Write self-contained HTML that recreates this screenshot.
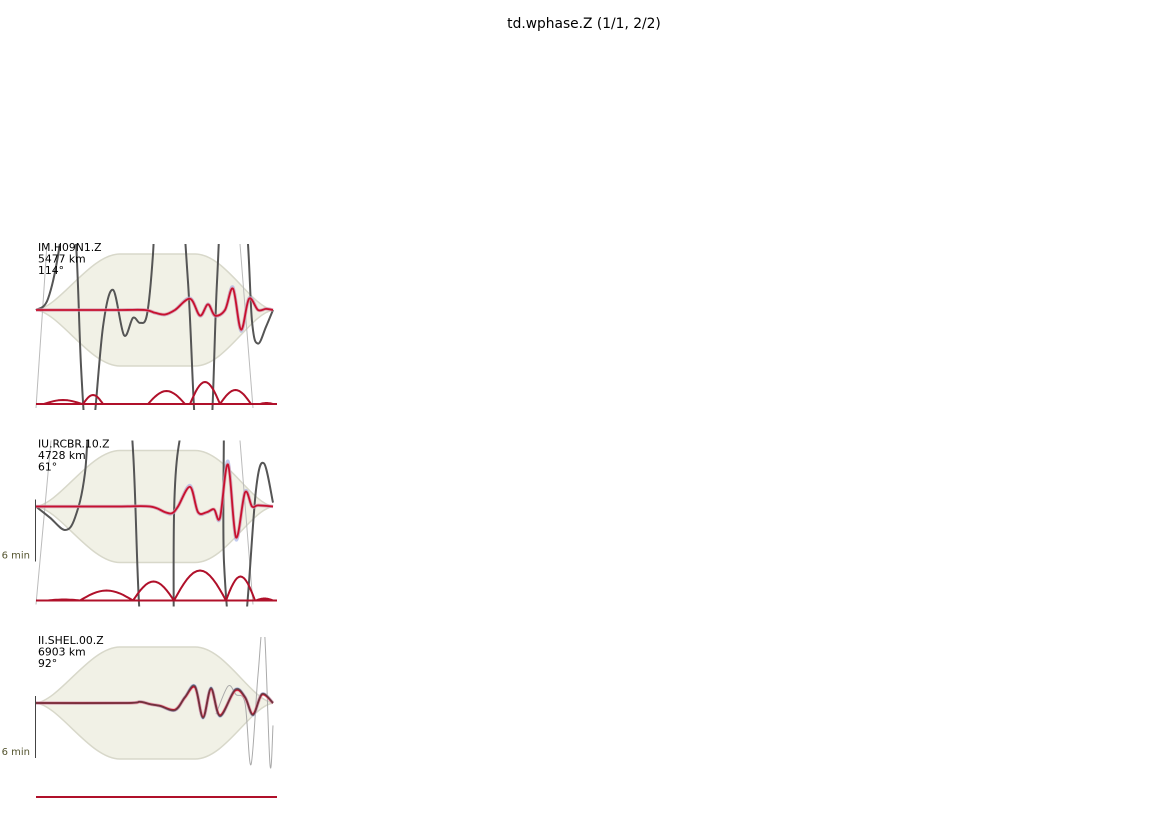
<!DOCTYPE html>
<html><head><meta charset="utf-8"><style>
body{margin:0;background:#fff;font-family:"DejaVu Sans","Liberation Sans",sans-serif}
svg{display:block}
</style></head><body>
<svg id="chart" width="1169" height="826" viewBox="0 0 1169 826">
<text x="584" y="28" text-anchor="middle" font-size="13.8" fill="#000" font-family="DejaVu Sans, sans-serif">td.wphase.Z (1/1, 2/2)</text>
<g id="panels"></g>
</svg>
<script>
// time samples (seconds) and normalized amplitudes per station
const stations = ["IM.H09N1.Z","IU.RCBR.10.Z","II.SHEL.00.Z"];
const distances = ["5477 km","4728 km","6903 km"];
const azimuths = ["114°","61°","92°"];
const synT1 = [0,400,545,595,645,695,770,820,860,895,945,985,1025,1065,1110,1150,1185];
const synV1 = [0,0,0,-0.05,-0.08,0,0.2,-0.1,0.1,-0.1,0,0.38,-0.35,0.2,0,0.02,0];
const obsT1 = [0,60,120,160,200,225,255,285,335,385,440,485,520,555,585,615,700,760,805,870,905,950,1045,1080,1110,1150,1185];
const obsV1 = [0,0.2,1.2,2.6,1.2,-1,-2.5,-2.2,-0.3,0.36,-0.45,-0.14,-0.23,-0.08,1,3,3,0.5,-2.5,-2.5,0.5,3,1.8,-0.2,-0.6,-0.3,0];
// spectrum bumps: start time, end time, height (px units)
const specS1 = [40,235,560,770,920,1120];
const specE1 = [230,335,745,920,1075,1185];
const specH1 = [4,9,13,22,14,1];
const synT2 = [0,400,570,645,680,710,770,810,855,890,920,960,1000,1045,1080,1110,1185];
const synV2 = [0,0,0,-0.1,-0.12,0,0.35,-0.1,-0.1,-0.05,-0.2,0.75,-0.55,0.25,0,0.02,0];
const obsT2 = [0,70,145,195,245,290,430,485,520,580,680,710,920,940,1000,1050,1100,1140,1185];
const obsV2 = [0,-0.2,-0.42,-0.2,0.6,2.5,3,1,-2,-3,-3,1,3,-1,-3,-2,0.3,0.77,0.07];
const specS2 = [60,220,485,690,950,1100];
const specE2 = [220,485,690,950,1095,1185];
const specH2 = [1,10,19,30,24,2];
const synT3 = [0,450,520,570,620,695,745,795,835,875,920,995,1045,1085,1130,1185];
const synV3 = [0,0,0.02,-0.02,-0.05,-0.12,0.1,0.28,-0.25,0.25,-0.22,0.22,0.1,-0.2,0.15,0];
const ghostT3 = [900,960,1000,1045,1075,1110,1140,1170,1185];
const ghostV3 = [-0.2,0.3,0.15,0,-1.1,0.5,1.4,-1.1,-0.4];
const tMax = 1185;

const NS='http://www.w3.org/2000/svg';
const root=document.getElementById('panels');
const X0=36, X1=273;
const xs=t=>X0+t/tMax*(X1-X0);
function mk(tag,attrs,parent){const e=document.createElementNS(NS,tag);for(const k in attrs)e.setAttribute(k,attrs[k]);(parent||root).appendChild(e);return e;}
function smooth(pts){
  let d='M'+pts[0][0].toFixed(1)+','+pts[0][1].toFixed(1);
  for(let i=0;i<pts.length-1;i++){
    const p0=pts[Math.max(0,i-1)],p1=pts[i],p2=pts[i+1],p3=pts[Math.min(pts.length-1,i+2)];
    const c1=[p1[0]+(p2[0]-p0[0])/6,p1[1]+(p2[1]-p0[1])/6];
    const c2=[p2[0]-(p3[0]-p1[0])/6,p2[1]-(p3[1]-p1[1])/6];
    d+=' C'+c1[0].toFixed(1)+','+c1[1].toFixed(1)+' '+c2[0].toFixed(1)+','+c2[1].toFixed(1)+' '+p2[0].toFixed(1)+','+p2[1].toFixed(1);
  }
  return d;
}
function trace(T,V,ys){return smooth(T.map((t,i)=>[xs(t),ys(V[i])]));}
function arches(S,E,H,sb){
  let d='M'+X0+','+sb;
  S.forEach((s,k)=>{
    const x0=xs(s),x1=xs(E[k]);
    d+=' L'+x0.toFixed(1)+','+sb;
    for(let j=1;j<=16;j++){const f=j/16;d+=' L'+(x0+(x1-x0)*f).toFixed(1)+','+(sb-H[k]*Math.sin(Math.PI*f)).toFixed(1);}
  });
  return d+' L277,'+sb;
}
function env(base){
  const h=56;
  return `M36,${base} C60,${base-3} 90,${base-h} 120,${base-h} L195,${base-h} C225,${base-h} 250,${base-4} 273,${base} C250,${base+4} 225,${base+h} 195,${base+h} L120,${base+h} C90,${base+h} 60,${base+3} 36,${base} Z`;
}
const sets=[
 {syn:[synT1,synV1],obs:[obsT1,obsV1],spec:[specS1,specE1,specH1],ghost:null,bar:false},
 {syn:[synT2,synV2],obs:[obsT2,obsV2],spec:[specS2,specE2,specH2],ghost:null,bar:true},
 {syn:[synT3,synV3],obs:[synT3,synV3.map(v=>v*1.08)],spec:null,ghost:[ghostT3,ghostV3],bar:true}
];
sets.forEach((s,i)=>{
  const base=310+i*196.5, sb=404+i*196.5;
  const g=mk('g',{});
  
  
  const cid='clip'+i;
  const cp=mk('clipPath',{id:cid},g);mk('rect',{x:34,y:base-66,width:242,height:166},cp);
  const ys=v=>base-v*56;
  const e=mk('path',{d:env(base),fill:'#f1f1e6',stroke:'#d8d8ca','stroke-width':1.5},g);
  
  
  const cg=mk('g',{'clip-path':'url(#'+cid+')'},g);
  if(s.ghost){const p=mk('path',{d:trace(s.ghost[0],s.ghost[1],ys),fill:'none',stroke:'#aaa','stroke-width':1},cg);
    }
  else{const p=mk('path',{d:`M36,${base+98} L${47+i*4},${base-66} M240,${base-66} L253,${base+98}`,fill:'none',stroke:'#bbb','stroke-width':1},cg);
    }
  const o=mk('path',{d:trace(s.obs[0],s.obs[1],ys),fill:'none',stroke:'#555','stroke-width':2},cg);
  
  
  mk('path',{d:trace(s.syn[0],s.syn[1].map(v=>v*1.08),ys),fill:'none',stroke:'#9aaae6','stroke-width':3,opacity:0.6},cg);
  mk('path',{d:trace(s.syn[0],s.syn[1],ys),fill:'none',stroke:'#e88a92','stroke-width':3.5,opacity:0.5},cg);
  const r=mk('path',{d:trace(s.syn[0],s.syn[1],ys),fill:'none',stroke:'#c8102e','stroke-width':1.8},cg);
  
  
  if(i===2){const o2=mk('path',{d:trace(s.obs[0],s.obs[1],ys),fill:'none',stroke:'#444','stroke-width':1.5,opacity:0.7},cg);
    }
  if(s.spec){const sp=mk('path',{d:arches(s.spec[0],s.spec[1],s.spec[2],sb),fill:'none',stroke:'#b0102a','stroke-width':2,'stroke-linejoin':'round'},g);
    }
  const bl=mk('line',{x1:36,x2:277,y1:sb,y2:sb,stroke:'#b0102a','stroke-width':2},g);
  
  
  const lbl=[stations[i],distances[i],azimuths[i]];
  lbl.forEach((t,k)=>{const tx=mk('text',{x:38,y:base-59+k*11.5,'font-size':10.8,fill:'#000'},g);tx.textContent=t;
    });
  if(s.bar){const b=mk('line',{x1:35.5,x2:35.5,y1:base-7,y2:base+55,stroke:'#444','stroke-width':1},g);
    
    const bt=mk('text',{x:30,y:base+52,'font-size':10,fill:'#555530','text-anchor':'end'},g);bt.textContent='6 min';
    }
});
</script>
</body></html>
